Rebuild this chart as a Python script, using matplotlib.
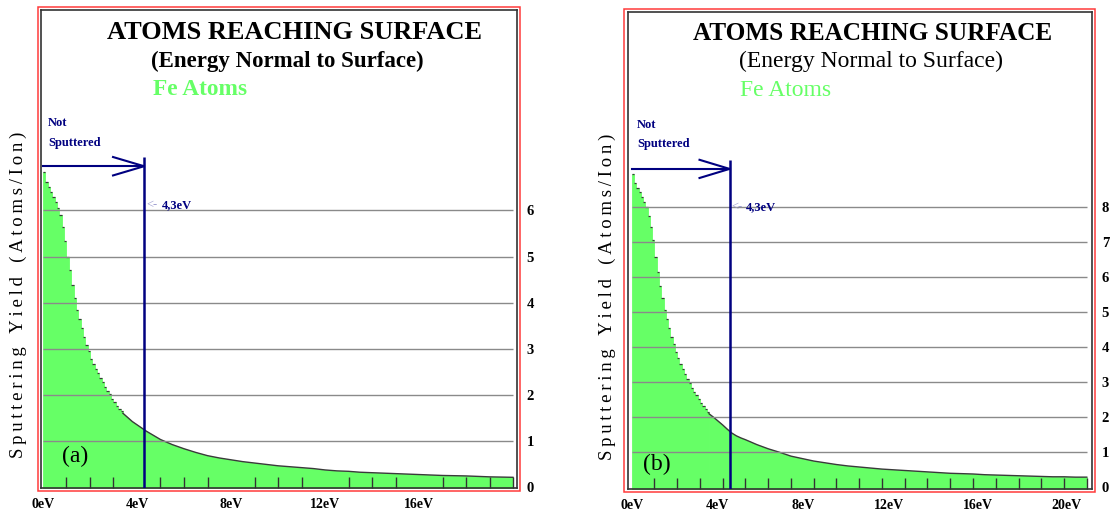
import numpy as np
import matplotlib
matplotlib.use('Agg')
import matplotlib.pyplot as plt
from matplotlib.patches import Rectangle

# 0.1 eV histogram bins (left edges) for the steep part of the curve
step_energy = list(np.round(np.arange(0, 3.35, 0.1), 2))
# read points for the smooth tail
tail_energy = [3.4, 3.6, 3.8, 4.0, 4.2, 4.4, 4.6, 4.8,
               5.0, 5.5, 6.0, 6.5, 7.0, 7.5, 8.0, 8.5, 9.0, 9.5,
               10.0, 10.5, 11.0, 11.5, 12.0, 12.5, 13.0, 13.5, 14.0, 14.5,
               15.0, 15.5, 16.0, 16.5, 17.0, 17.5, 18.0, 18.5, 19.0, 19.5, 20.0]
x_max = 20
binding = 4.3

step_a = [6.83, 6.61, 6.51, 6.41, 6.30, 6.19, 6.06, 5.90, 5.65, 5.34,
          5.00, 4.71, 4.38, 4.11, 3.85, 3.64, 3.44, 3.26, 3.08, 2.94,
          2.78, 2.67, 2.57, 2.47, 2.36, 2.27, 2.18, 2.08, 2.01, 1.92,
          1.84, 1.76, 1.70, 1.65]
tail_a = [1.60, 1.51, 1.42, 1.35, 1.28, 1.21, 1.15, 1.09,
          1.03, 0.92, 0.83, 0.75, 0.68, 0.63, 0.59, 0.55, 0.52, 0.49,
          0.46, 0.44, 0.42, 0.40, 0.37, 0.35, 0.34, 0.32, 0.31, 0.30,
          0.29, 0.28, 0.27, 0.26, 0.25, 0.245, 0.24, 0.23, 0.22, 0.215, 0.21]

step_b = [8.94, 8.69, 8.54, 8.43, 8.30, 8.16, 8.02, 7.75, 7.45, 7.07,
          6.57, 6.16, 5.75, 5.40, 5.07, 4.80, 4.54, 4.30, 4.09, 3.87,
          3.69, 3.51, 3.37, 3.24, 3.09, 2.97, 2.85, 2.73, 2.63, 2.52,
          2.42, 2.32, 2.23, 2.15]
tail_b = [2.10, 2.00, 1.89, 1.78, 1.66, 1.55, 1.47, 1.41,
          1.36, 1.22, 1.10, 1.00, 0.89, 0.82, 0.75, 0.70, 0.65, 0.61,
          0.58, 0.55, 0.52, 0.50, 0.48, 0.46, 0.44, 0.42, 0.40, 0.39,
          0.38, 0.36, 0.35, 0.34, 0.33, 0.32, 0.31, 0.30, 0.30, 0.29, 0.29]

xlabels_a = ['0eV', '4eV', '8eV', '12eV', '16eV']
xlabel_pos_a = [0, 4, 8, 12, 16]
xlabels_b = ['0eV', '4eV', '8eV', '12eV', '16eV', '20eV']
xlabel_pos_b = [0, 3.75, 7.55, 11.3, 15.2, 19.1]
yticks_a = list(range(0, 7))
yticks_b = list(range(0, 9))

W, H = 1113, 514
SERIF = ['Liberation Serif', 'DejaVu Serif']
NAVY = '#000080'
GREEN = '#66ff66'

fig = plt.figure(figsize=(W / 100, H / 100), dpi=100)
fig.patch.set_facecolor('white')


def px_axes(x0, y0, x1, y1):
    return fig.add_axes([x0 / W, 1 - y1 / H, (x1 - x0) / W, (y1 - y0) / H])


def red_frame(x0, y0, x1, y1):
    fig.add_artist(Rectangle((x0 / W, 1 - y1 / H), (x1 - x0) / W, (y1 - y0) / H,
                             transform=fig.transFigure, fill=False,
                             ec='#ff3a3a', lw=1.1))


def panel(ax, steps, tail, xlim, ylim, yticks, lab_pos, labs, tag, arrow_y,
          line_top, head_h, txt, bold_sub, sizes):
    ax.set_xlim(*xlim)
    ax.set_ylim(*ylim)
    edges = step_energy + [tail_energy[0]]
    ax.fill_between(edges, steps + [steps[-1]], ylim[0], step='post', fc=GREEN,
                    ec=GREEN, lw=0.6, zorder=1)
    ax.hlines(steps, step_energy, edges[1:], color='#3a3a3a', lw=0.9, zorder=2)
    ax.fill_between(tail_energy, tail, ylim[0], fc=GREEN, ec=GREEN, lw=0.6, zorder=1)
    ax.plot(tail_energy, tail, color='#3a3a3a', lw=1.0, zorder=2)
    ax.hlines(yticks[1:], 0, x_max, color='#8a8a8a', lw=1, zorder=3)

    # surface binding energy marker
    ax.vlines(binding, ylim[0], line_top, color=NAVY, lw=1.8, zorder=4)
    ax.plot([0, binding], [arrow_y, arrow_y], color=NAVY, lw=1.5, zorder=4)
    ax.plot([binding - 1.32, binding, binding - 1.32],
            [arrow_y + head_h, arrow_y, arrow_y - head_h], color=NAVY, lw=1.5, zorder=4)

    for s in ax.spines.values():
        s.set_color('#333333')
        s.set_linewidth(1.2)
    ax.yaxis.tick_right()
    ax.set_yticks(yticks)
    ax.set_yticklabels([str(t) for t in yticks], fontsize=10.5, fontweight='bold',
                       family=SERIF)
    ax.tick_params(axis='y', length=0, pad=7)
    ax.set_xticks(lab_pos)
    ax.set_xticklabels(labs, fontsize=10, fontweight='bold', family=SERIF)
    ax.set_xticks(range(0, x_max + 1), minor=True)
    ax.tick_params(axis='x', which='major', length=0, pad=7)
    ax.tick_params(axis='x', which='minor', direction='in', length=8, width=1,
                   color='#333333')

    weight = 'bold' if bold_sub else 'normal'
    ax.text(txt['title'][0], txt['title'][1], 'ATOMS REACHING SURFACE', ha='center',
            va='center', fontsize=sizes[0], fontweight='bold', family=SERIF)
    ax.text(txt['sub'][0], txt['sub'][1], '(Energy Normal to Surface)', ha='center',
            va='center', fontsize=sizes[1], fontweight=weight, family=SERIF)
    ax.text(txt['fe'][0], txt['fe'][1], 'Fe Atoms', ha='left', va='center',
            fontsize=sizes[2], fontweight=weight, color=GREEN, family=SERIF)
    ax.text(txt['not'][0], txt['not'][1], 'Not', ha='left', va='center', fontsize=9,
            fontweight='bold', color=NAVY, family=SERIF)
    ax.text(txt['not'][0], txt['not'][2], 'Sputtered', ha='left', va='center',
            fontsize=9, fontweight='bold', color=NAVY, family=SERIF)
    ax.text(txt['be'][0], txt['be'][2], '<-', ha='left', va='center', fontsize=9,
            color='#9c9cd0', family=SERIF)
    ax.text(txt['be'][1], txt['be'][2], '4,3eV', ha='left', va='center', fontsize=9,
            fontweight='bold', color=NAVY, family=SERIF)
    ax.text(txt['tag'][0], txt['tag'][1], tag, ha='left', va='center', fontsize=17,
            family=SERIF)


ylabel = '\u2009'.join('Sputtering') + '   ' + '\u2009'.join('Yield') + '   ' + \
    '\u2009'.join('(Atoms/Ion)')

# panel (a)
red_frame(37.5, 7, 520, 491)
ax_a = px_axes(41, 10, 517, 488)
panel(ax_a, step_a, tail_a, (-0.085, 20.17), (-0.022, 10.35), yticks_a,
      xlabel_pos_a, xlabels_a, '(a)', 6.96, 7.16, 0.2,
      {'title': (10.72, 9.87), 'sub': (10.4, 9.24), 'fe': (4.68, 8.63),
       'not': (0.21, 7.9, 7.46), 'be': (4.38, 5.06, 6.12), 'tag': (0.8, 0.67)},
      True, (19, 16.5, 16.8))
fig.text(18 / W, 1 - 295 / H, ylabel, rotation=90, ha='center', va='center',
         fontsize=13.5, family=SERIF)

# panel (b)
red_frame(624, 9, 1095, 492)
ax_b = px_axes(628, 12.5, 1092, 489)
panel(ax_b, step_b, tail_b, (-0.163, 20.23), (-0.049, 13.57), yticks_b,
      xlabel_pos_b, xlabels_b, '(b)', 9.1, 9.35, 0.26,
      {'title': (10.6, 12.98), 'sub': (10.52, 12.18), 'fe': (4.76, 11.35),
       'not': (0.23, 10.35, 9.81), 'be': (4.36, 5.02, 8.0), 'tag': (0.48, 0.64)},
      False, (18.2, 17, 17))
fig.text(607 / W, 1 - 297 / H, ylabel, rotation=90, ha='center', va='center',
         fontsize=13.5, family=SERIF)

fig.savefig('out.png', dpi=100)
